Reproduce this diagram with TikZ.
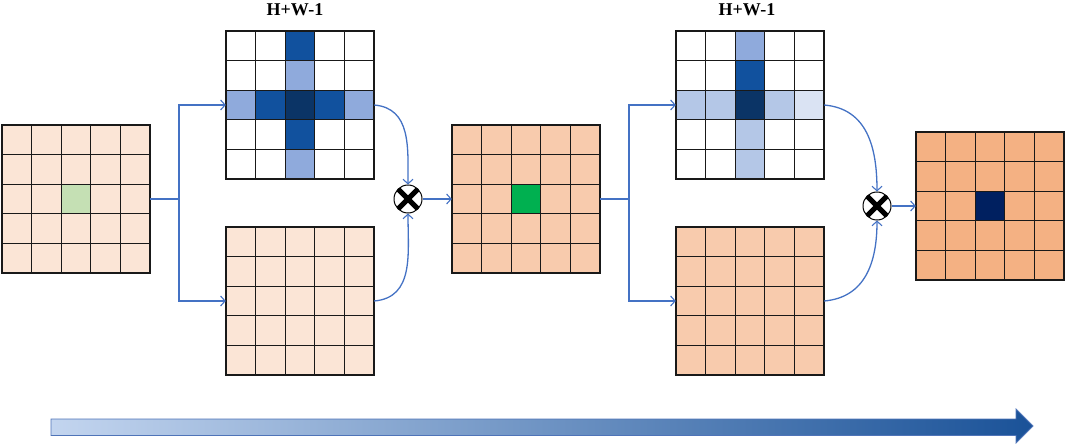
\documentclass[tikz,border=0pt]{standalone}
\usepackage{fontspec}
\setmainfont{Liberation Serif}
\usetikzlibrary{arrows.meta,calc,shadings}
\definecolor{peachA}{HTML}{FBE5D6}
\definecolor{peachB}{HTML}{F8CBAD}
\definecolor{peachC}{HTML}{F4B183}
\definecolor{greenA}{HTML}{C5E0B4}
\definecolor{greenB}{HTML}{00B050}
\definecolor{navy}{HTML}{002060}
\definecolor{blueD}{HTML}{11519E}
\definecolor{blueC}{HTML}{0B3466}
\definecolor{blueL}{HTML}{8FAADC}
\definecolor{blueM}{HTML}{B4C7E7}
\definecolor{blueV}{HTML}{DAE3F3}
\definecolor{conncol}{HTML}{4472C4}
\definecolor{barL}{HTML}{C3D5EF}
\definecolor{barR}{HTML}{1A5298}
\definecolor{barE}{HTML}{4F74B8}
\newcommand\mygrid[4]{% x0, y0, name, fill
  \node[gridbox, fill=#4] (#3) at ({#1+74},{-(#2+74)}) {};
}
\newcommand\mylines[2]{% x0, y0
  \foreach \i in {1,...,4} {
    \draw[gline] ({#1+\i*29.6},{-#2}) -- ++(0,-148);
    \draw[gline] ({#1},{-(#2+\i*29.6)}) -- ++(148,0);
  }
  \draw[gline] (#1,-#2) rectangle ++(148,-148);
}
\newcommand\mycell[5]{% x0, y0, row, col, colour
  \fill[#5] ({#1+#4*29.6},{-(#2+#3*29.6)}) rectangle ++(29.6,-29.6);
}
\begin{document}
\begin{tikzpicture}[x=1pt,y=1pt,
  gridbox/.style={rectangle, minimum width=148pt, minimum height=148pt, inner sep=0pt, draw=none},
  gline/.style={line width=1.1pt, draw=black!90},
  conn/.style={draw=conncol, line width=1.3pt},
  arr/.style={conn, -{Straight Barb[length=4.5pt,width=10pt,line width=1.1pt]}},
  mult/.style={circle, minimum size=28pt, inner sep=0pt, draw=black, line width=1pt, fill=white,
    path picture={\draw[line width=5pt] (path picture bounding box.north west) -- (path picture bounding box.south east)
      (path picture bounding box.north east) -- (path picture bounding box.south west);}},
  title/.style={font=\fontsize{18}{21}\selectfont\bfseries, inner sep=0pt}
]
\useasboundingbox (0,0) rectangle (1065,-446);

% grid 1
\mygrid{2}{125}{g1}{peachA}
\mycell{2}{125}{2}{2}{greenA}
\mylines{2}{125}

% grid 2 (top)
\mygrid{226}{31}{g2}{white}
\mycell{226}{31}{0}{2}{blueD}
\mycell{226}{31}{1}{2}{blueL}
\mycell{226}{31}{2}{0}{blueL}
\mycell{226}{31}{2}{1}{blueD}
\mycell{226}{31}{2}{2}{blueC}
\mycell{226}{31}{2}{3}{blueD}
\mycell{226}{31}{2}{4}{blueL}
\mycell{226}{31}{3}{2}{blueD}
\mycell{226}{31}{4}{2}{blueL}
\mylines{226}{31}

% grid 3 (bottom)
\mygrid{226}{227}{g3}{peachA}
\mylines{226}{227}

% grid 4
\mygrid{452}{125}{g4}{peachB}
\mycell{452}{125}{2}{2}{greenB}
\mylines{452}{125}

% grid 5 (top)
\mygrid{676}{31}{g5}{white}
\mycell{676}{31}{0}{2}{blueL}
\mycell{676}{31}{1}{2}{blueD}
\mycell{676}{31}{2}{0}{blueM}
\mycell{676}{31}{2}{1}{blueM}
\mycell{676}{31}{2}{2}{blueC}
\mycell{676}{31}{2}{3}{blueM}
\mycell{676}{31}{2}{4}{blueV}
\mycell{676}{31}{3}{2}{blueM}
\mycell{676}{31}{4}{2}{blueM}
\mylines{676}{31}

% grid 6 (bottom)
\mygrid{676}{227}{g6}{peachB}
\mylines{676}{227}

% grid 7
\mygrid{916}{132}{g7}{peachC}
\mycell{916}{132}{2}{2}{navy}
\mylines{916}{132}

% titles
\node[title] (t1) at (295,-10) {H+W-1};
\node[title] (t2) at (747,-10) {H+W-1};

% multiply nodes
\node[mult] (m1) at (408,-199) {};
\node[mult] (m2) at (877,-206) {};

% junctions
\coordinate (j1) at (179,-199);
\coordinate (j2) at (629,-199);

% connectors stage 1
\draw[conn] (g1.east) -- (j1);
\draw[arr] (j1) |- (g2.west);
\draw[arr] (j1) |- (g3.west);
\draw[arr] (g2.east) to[out=-5,in=90,looseness=1.1] (m1.north);
\draw[arr] (g3.east) to[out=5,in=-90,looseness=1.1] (m1.south);
\draw[arr] (m1.east) -- (g4.west);

% connectors stage 2
\draw[conn] (g4.east) -- (j2);
\draw[arr] (j2) |- (g5.west);
\draw[arr] (j2) |- (g6.west);
\draw[arr] (g5.east) to[out=-5,in=90,looseness=1.1] (m2.north);
\draw[arr] (g6.east) to[out=5,in=-90,looseness=1.1] (m2.south);
\draw[arr] (m2.east) -- (g7.west);

% bottom progress arrow
\draw[draw=barE, line width=0.8pt, left color=barL, right color=barR]
  (51,-419) -- (1016,-419) -- (1016,-409) -- (1033,-426) -- (1016,-443) -- (1016,-435.5) -- (51,-435.5) -- cycle;
\end{tikzpicture}
\end{document}
